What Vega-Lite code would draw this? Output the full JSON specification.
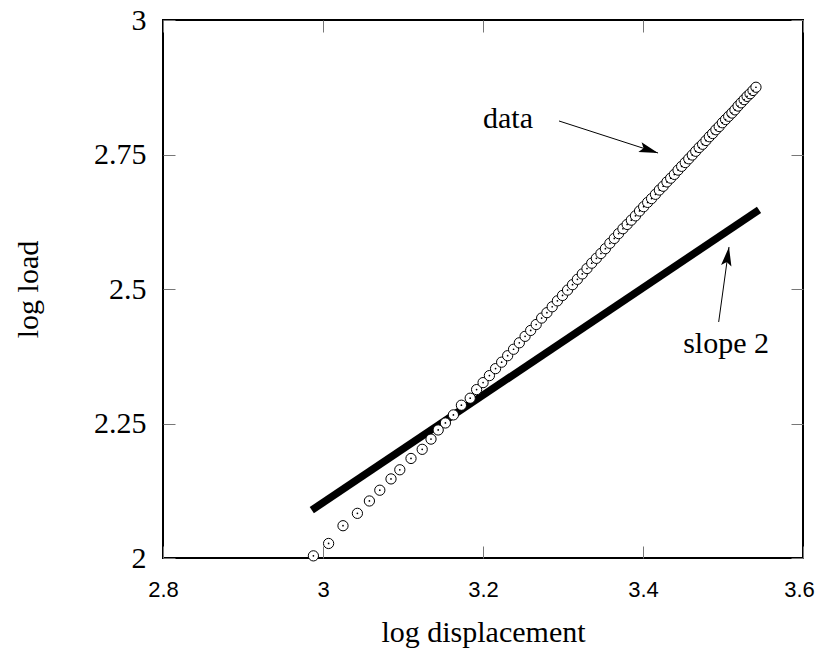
{
  "$schema": "https://vega.github.io/schema/vega-lite/v6.json",
  "width": 640,
  "height": 538,
  "autosize": {"type": "none"},
  "padding": {"left": 163, "top": 20, "right": 14, "bottom": 99},
  "background": "white",
  "view": {"stroke": "black", "strokeWidth": 2},
  "config": {
    "axis": {"grid": false, "domain": false, "tickColor": "#777777", "tickWidth": 1, "tickSize": -12, "labelFlush": false, "labelColor": "black", "titleColor": "black", "titleFontWeight": "normal"}
  },
  "datasets": {
    "measured": [
      {"logDisp": 2.988, "logLoad": 2.004}, {"logDisp": 3.007, "logLoad": 2.027}, {"logDisp": 3.025, "logLoad": 2.060},
      {"logDisp": 3.043, "logLoad": 2.083}, {"logDisp": 3.058, "logLoad": 2.106}, {"logDisp": 3.071, "logLoad": 2.126},
      {"logDisp": 3.085, "logLoad": 2.147}, {"logDisp": 3.096, "logLoad": 2.164}, {"logDisp": 3.110, "logLoad": 2.185},
      {"logDisp": 3.124, "logLoad": 2.202}, {"logDisp": 3.135, "logLoad": 2.221}, {"logDisp": 3.144, "logLoad": 2.238},
      {"logDisp": 3.153, "logLoad": 2.251}, {"logDisp": 3.163, "logLoad": 2.266}, {"logDisp": 3.173, "logLoad": 2.284},
      {"logDisp": 3.184, "logLoad": 2.297}, {"logDisp": 3.192, "logLoad": 2.313},
      {"logDisp": 3.2001, "logLoad": 2.326}, {"logDisp": 3.2080, "logLoad": 2.339}, {"logDisp": 3.2157, "logLoad": 2.352},
      {"logDisp": 3.2233, "logLoad": 2.364}, {"logDisp": 3.2308, "logLoad": 2.376}, {"logDisp": 3.2382, "logLoad": 2.388},
      {"logDisp": 3.2454, "logLoad": 2.400}, {"logDisp": 3.2526, "logLoad": 2.412}, {"logDisp": 3.2596, "logLoad": 2.423},
      {"logDisp": 3.2665, "logLoad": 2.434}, {"logDisp": 3.2733, "logLoad": 2.446}, {"logDisp": 3.2799, "logLoad": 2.456},
      {"logDisp": 3.2865, "logLoad": 2.467}, {"logDisp": 3.2930, "logLoad": 2.478}, {"logDisp": 3.2994, "logLoad": 2.488},
      {"logDisp": 3.3057, "logLoad": 2.498}, {"logDisp": 3.3119, "logLoad": 2.508}, {"logDisp": 3.3180, "logLoad": 2.518},
      {"logDisp": 3.3241, "logLoad": 2.528}, {"logDisp": 3.3300, "logLoad": 2.538}, {"logDisp": 3.3359, "logLoad": 2.548},
      {"logDisp": 3.3417, "logLoad": 2.557}, {"logDisp": 3.3474, "logLoad": 2.566}, {"logDisp": 3.3530, "logLoad": 2.575},
      {"logDisp": 3.3586, "logLoad": 2.585}, {"logDisp": 3.3641, "logLoad": 2.594}, {"logDisp": 3.3695, "logLoad": 2.603},
      {"logDisp": 3.3749, "logLoad": 2.612}, {"logDisp": 3.3802, "logLoad": 2.620}, {"logDisp": 3.3854, "logLoad": 2.628},
      {"logDisp": 3.3906, "logLoad": 2.636}, {"logDisp": 3.3957, "logLoad": 2.645}, {"logDisp": 3.4008, "logLoad": 2.653},
      {"logDisp": 3.4058, "logLoad": 2.661}, {"logDisp": 3.4107, "logLoad": 2.668}, {"logDisp": 3.4156, "logLoad": 2.676},
      {"logDisp": 3.4204, "logLoad": 2.684}, {"logDisp": 3.4252, "logLoad": 2.691}, {"logDisp": 3.4299, "logLoad": 2.699},
      {"logDisp": 3.4346, "logLoad": 2.706}, {"logDisp": 3.4392, "logLoad": 2.713}, {"logDisp": 3.4438, "logLoad": 2.721},
      {"logDisp": 3.4483, "logLoad": 2.728}, {"logDisp": 3.4528, "logLoad": 2.735}, {"logDisp": 3.4572, "logLoad": 2.742},
      {"logDisp": 3.4616, "logLoad": 2.749}, {"logDisp": 3.4659, "logLoad": 2.756}, {"logDisp": 3.4702, "logLoad": 2.763},
      {"logDisp": 3.4745, "logLoad": 2.769}, {"logDisp": 3.4787, "logLoad": 2.776}, {"logDisp": 3.4829, "logLoad": 2.783},
      {"logDisp": 3.4870, "logLoad": 2.789}, {"logDisp": 3.4911, "logLoad": 2.796}, {"logDisp": 3.4952, "logLoad": 2.802},
      {"logDisp": 3.4992, "logLoad": 2.809}, {"logDisp": 3.5032, "logLoad": 2.815}, {"logDisp": 3.5071, "logLoad": 2.821},
      {"logDisp": 3.5111, "logLoad": 2.827}, {"logDisp": 3.5149, "logLoad": 2.833}, {"logDisp": 3.5188, "logLoad": 2.840},
      {"logDisp": 3.5226, "logLoad": 2.846}, {"logDisp": 3.5264, "logLoad": 2.852}, {"logDisp": 3.5301, "logLoad": 2.858},
      {"logDisp": 3.5338, "logLoad": 2.863}, {"logDisp": 3.5375, "logLoad": 2.869}, {"logDisp": 3.5412, "logLoad": 2.875}
    ],
    "slope": [
      {"logDisp": 2.986, "logLoad": 2.089},
      {"logDisp": 3.545, "logLoad": 2.647}
    ],
    "notes": [
      {"label": "data", "tx": 3.2313, "ty": 2.7993, "x0": 3.295, "y0": 2.8123, "x1": 3.4188, "y1": 2.7528, "angle": 18},
      {"label": "slope 2", "tx": 3.5038, "ty": 2.381, "x0": 3.4946, "y0": 2.4387, "x1": 3.5075, "y1": 2.5781, "angle": 278.3}
    ]
  },
  "resolve": {"axis": {"x": "independent", "y": "independent"}},
  "layer": [
    {
      "data": {"name": "slope"},
      "mark": {"type": "line", "color": "black", "strokeWidth": 7.5, "strokeCap": "butt"},
      "encoding": {
        "x": {
          "field": "logDisp", "type": "quantitative",
          "scale": {"domain": [2.8, 3.6], "nice": false, "zero": false},
          "axis": {
            "orient": "bottom", "values": [2.8, 3, 3.2, 3.4, 3.6], "labelExpr": "datum.value + ''",
            "labelFont": "Liberation Sans", "labelFontSize": 22, "labelPadding": 33, "labelBaseline": "top",
            "labelOffset": {"condition": {"test": "datum.value > 3.5", "value": -4}, "value": 0},
            "title": "log displacement", "titleFont": "Liberation Serif", "titleFontSize": 30,
            "titleY": 83, "titleBaseline": "alphabetic"
          }
        },
        "y": {
          "field": "logLoad", "type": "quantitative",
          "scale": {"domain": [2, 3], "nice": false, "zero": false},
          "axis": {
            "orient": "left", "values": [2, 2.25, 2.5, 2.75, 3], "labelExpr": "datum.value + ''",
            "labelFont": "Liberation Serif", "labelFontSize": 30, "labelPadding": 29,
            "title": "log load", "titleFont": "Liberation Serif", "titleFontSize": 30,
            "titleAngle": 270, "titleX": -135, "titleY": 269, "titleAlign": "center", "titleBaseline": "middle"
          }
        }
      }
    },
    {
      "data": {"name": "notes"},
      "mark": {"type": "rule", "color": "black", "strokeWidth": 1},
      "encoding": {
        "x": {"field": "x0", "type": "quantitative", "axis": null},
        "y": {"field": "y0", "type": "quantitative", "axis": null},
        "x2": {"field": "x1"},
        "y2": {"field": "y1"}
      }
    },
    {
      "data": {"name": "notes"},
      "mark": {"type": "point", "shape": "M0,0 L-2,-0.55 L-1.6,0 L-2,0.55 Z", "filled": true, "color": "black", "opacity": 1, "size": 361, "strokeWidth": 0},
      "encoding": {
        "x": {"field": "x1", "type": "quantitative", "axis": null},
        "y": {"field": "y1", "type": "quantitative", "axis": null},
        "angle": {"field": "angle", "type": "quantitative", "scale": null}
      }
    },
    {
      "data": {"name": "notes"},
      "mark": {"type": "text", "font": "Liberation Serif", "fontSize": 30, "align": "center", "baseline": "alphabetic", "color": "black"},
      "encoding": {
        "x": {"field": "tx", "type": "quantitative", "axis": null},
        "y": {"field": "ty", "type": "quantitative", "axis": null},
        "text": {"field": "label"}
      }
    },
    {
      "data": {"name": "measured"},
      "mark": {"type": "point", "shape": "circle", "filled": true, "fill": "white", "stroke": "black", "strokeWidth": 1, "opacity": 1, "size": 105},
      "encoding": {
        "x": {"field": "logDisp", "type": "quantitative", "axis": {"orient": "top", "values": [2.8, 3, 3.2, 3.4, 3.6], "labels": false, "title": null}},
        "y": {"field": "logLoad", "type": "quantitative", "axis": {"orient": "right", "values": [2, 2.25, 2.5, 2.75, 3], "labels": false, "title": null}}
      }
    },
    {
      "data": {"name": "measured"},
      "mark": {"type": "circle", "color": "black", "opacity": 1, "size": 3},
      "encoding": {
        "x": {"field": "logDisp", "type": "quantitative", "axis": null},
        "y": {"field": "logLoad", "type": "quantitative", "axis": null}
      }
    }
  ]
}
